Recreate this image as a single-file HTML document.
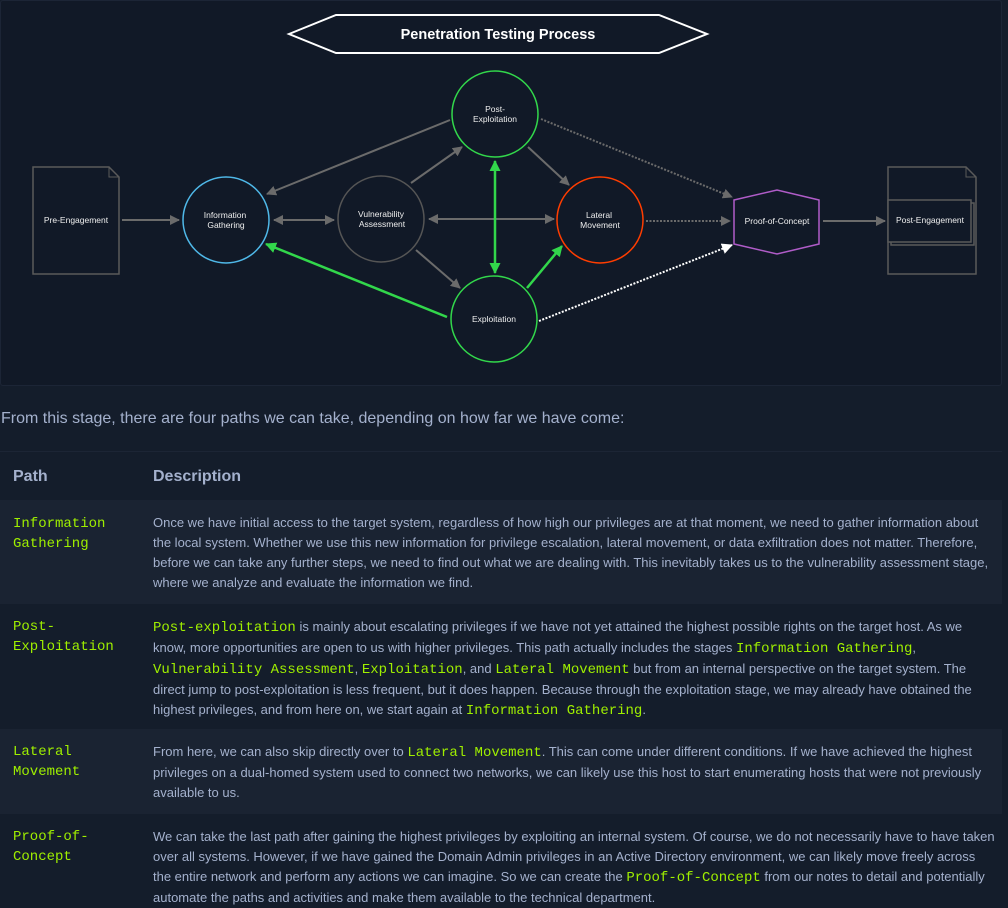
<!DOCTYPE html>
<html><head><meta charset="utf-8"><style>
*{margin:0;padding:0;box-sizing:border-box}
body{width:1008px;height:904px;background:#141d2b;overflow:hidden;font-family:"Liberation Sans",sans-serif;color:#a4b1cd;position:relative}
.dg{position:absolute;left:0;top:0;width:1002px;height:386px;background:#111927;border:1px solid #1c2536;border-radius:3px}
.intro{position:absolute;left:1px;top:410px;font-size:16px;color:#a4b1cd;white-space:nowrap}
.hline{position:absolute;left:0;top:451px;width:1002px;height:1px;background:#1c2535}
.row{position:absolute;left:0;width:1002px}
.p{position:absolute;left:13px;font-family:"Liberation Mono",monospace;font-size:14px;line-height:20px;color:#9fef00}
.d{position:absolute;left:153px;font-size:13px;line-height:20px;color:#a4b1cd;white-space:nowrap}
code{font-family:"Liberation Mono",monospace;font-size:14px;color:#9fef00}
.h{position:absolute;top:468px;font-weight:bold;font-size:16px;color:#a4b1cd}
</style></head><body>
<div class="dg">
<svg width="1002" height="386" viewBox="0 0 1002 386" xmlns="http://www.w3.org/2000/svg" font-family="Liberation Sans, sans-serif">
<defs>
<marker id="ag" markerWidth="10" markerHeight="10" refX="9" refY="5" orient="auto-start-reverse" markerUnits="userSpaceOnUse"><path d="M0,0 L10,5 L0,10 z" fill="#6b6b6b"/></marker>
<marker id="agr" markerWidth="11" markerHeight="11" refX="10" refY="5.5" orient="auto-start-reverse" markerUnits="userSpaceOnUse"><path d="M0,0 L11,5.5 L0,11 z" fill="#32d74b"/></marker>
<marker id="aw" markerWidth="11" markerHeight="11" refX="10" refY="5.5" orient="auto" markerUnits="userSpaceOnUse"><path d="M0,0 L11,5.5 L0,11 z" fill="#fff"/></marker>
</defs>
<polygon points="288,33 335,14 658,14 706,33 658,52 335,52" fill="#111927" stroke="#fff" stroke-width="2"/>
<text x="497" y="38" fill="#fff" font-size="14.5" font-weight="bold" text-anchor="middle">Penetration Testing Process</text>
<path d="M32,166 H108 L118,176 V273 H32 Z" fill="none" stroke="#5a5a5a" stroke-width="1.5"/>
<path d="M108,166 V176 H118" fill="none" stroke="#5a5a5a" stroke-width="1"/>
<text x="75" y="222" fill="#eee" font-size="8.5" text-anchor="middle">Pre-Engagement</text>
<path d="M887,166 H965 L975,176 V273 H887 Z" fill="none" stroke="#5a5a5a" stroke-width="1.5"/>
<path d="M965,166 V176 H975" fill="none" stroke="#5a5a5a" stroke-width="1"/>
<rect x="890" y="202" width="83" height="42" fill="none" stroke="#5a5a5a" stroke-width="1.5"/>
<rect x="887" y="199" width="83" height="42" fill="#111927" stroke="#5a5a5a" stroke-width="1.5"/>
<text x="929" y="222" fill="#eee" font-size="8.5" text-anchor="middle">Post-Engagement</text>
<circle cx="225" cy="219" r="43" fill="none" stroke="#4fb8e8" stroke-width="1.5"/>
<text x="224" y="217" fill="#eee" font-size="8.5" text-anchor="middle">Information</text>
<text x="225" y="227" fill="#eee" font-size="8.5" text-anchor="middle">Gathering</text>
<circle cx="380" cy="218" r="43" fill="none" stroke="#555" stroke-width="1.5"/>
<text x="380" y="216" fill="#eee" font-size="8.5" text-anchor="middle">Vulnerability</text>
<text x="381" y="226" fill="#eee" font-size="8.5" text-anchor="middle">Assessment</text>
<circle cx="494" cy="113" r="43" fill="none" stroke="#32d74b" stroke-width="1.5"/>
<text x="494" y="111" fill="#eee" font-size="8.5" text-anchor="middle">Post-</text>
<text x="494" y="121" fill="#eee" font-size="8.5" text-anchor="middle">Exploitation</text>
<circle cx="599" cy="219" r="43" fill="none" stroke="#ff3d00" stroke-width="1.5"/>
<text x="598" y="217" fill="#eee" font-size="8.5" text-anchor="middle">Lateral</text>
<text x="599" y="227" fill="#eee" font-size="8.5" text-anchor="middle">Movement</text>
<circle cx="493" cy="318" r="43" fill="none" stroke="#32d74b" stroke-width="1.5"/>
<text x="493" y="321" fill="#eee" font-size="8.5" text-anchor="middle">Exploitation</text>
<polygon points="733,199 776,189 818,199 818,243 776,253 733,243" fill="none" stroke="#b05cc8" stroke-width="1.5"/>
<text x="776" y="223" fill="#eee" font-size="8.5" text-anchor="middle">Proof-of-Concept</text>
<g stroke="#6b6b6b" stroke-width="2" fill="none">
<line x1="121" y1="219" x2="178" y2="219" marker-end="url(#ag)"/>
<line x1="449" y1="119" x2="266" y2="193" marker-end="url(#ag)"/>
<line x1="410" y1="182" x2="461" y2="146" marker-end="url(#ag)"/>
<line x1="273" y1="219" x2="333" y2="219" marker-start="url(#ag)" marker-end="url(#ag)"/>
<line x1="428" y1="218" x2="553" y2="218" marker-start="url(#ag)" marker-end="url(#ag)"/>
<line x1="415" y1="249" x2="459" y2="287" marker-end="url(#ag)"/>
<line x1="527" y1="146" x2="568" y2="184" marker-end="url(#ag)"/>
<line x1="822" y1="220" x2="884" y2="220" marker-end="url(#ag)"/>
</g>
<g stroke="#6b6b6b" stroke-width="2" fill="none" stroke-dasharray="2,1.5">
<line x1="540" y1="118" x2="731" y2="196" marker-end="url(#ag)"/>
<line x1="645" y1="220" x2="729" y2="220" marker-end="url(#ag)"/>
</g>
<line x1="538" y1="320" x2="731" y2="244" stroke="#fff" stroke-width="2" stroke-dasharray="2,1.5" marker-end="url(#aw)"/>
<g stroke="#32d74b" stroke-width="2.5" fill="none">
<line x1="494" y1="160" x2="494" y2="272" marker-start="url(#agr)" marker-end="url(#agr)"/>
<line x1="446" y1="316" x2="265" y2="243" marker-end="url(#agr)"/>
<line x1="526" y1="287" x2="561" y2="245" marker-end="url(#agr)"/>
</g>
</svg>
</div>
<div class="intro">From this stage, there are four paths we can take, depending on how far we have come:</div>
<div class="hline"></div>
<div class="h" style="left:13px">Path</div>
<div class="h" style="left:153px">Description</div>

<div class="row" style="top:500px;height:104px;background:#1a2332">
<div class="p" style="top:14px">Information<br>Gathering</div>
<div class="d" style="top:13px">Once we have initial access to the target system, regardless of how high our privileges are at that moment, we need to gather information about<br>the local system. Whether we use this new information for privilege escalation, lateral movement, or data exfiltration does not matter. Therefore,<br>before we can take any further steps, we need to find out what we are dealing with. This inevitably takes us to the vulnerability assessment stage,<br>where we analyze and evaluate the information we find.</div>
</div>

<div class="row" style="top:604px;height:125px">
<div class="p" style="top:13px">Post-<br>Exploitation</div>
<div class="d" style="top:13px"><code>Post-exploitation</code> is mainly about escalating privileges if we have not yet attained the highest possible rights on the target host. As we<br>know, more opportunities are open to us with higher privileges. This path actually includes the stages <code>Information Gathering</code>,<br><code>Vulnerability Assessment</code>, <code>Exploitation</code>, and <code>Lateral Movement</code> but from an internal perspective on the target system. The<br>direct jump to post-exploitation is less frequent, but it does happen. Because through the exploitation stage, we may already have obtained the<br>highest privileges, and from here on, we start again at <code>Information Gathering</code>.</div>
</div>

<div class="row" style="top:729px;height:85px;background:#1a2332">
<div class="p" style="top:13px">Lateral<br>Movement</div>
<div class="d" style="top:13px">From here, we can also skip directly over to <code>Lateral Movement</code>. This can come under different conditions. If we have achieved the highest<br>privileges on a dual-homed system used to connect two networks, we can likely use this host to start enumerating hosts that were not previously<br>available to us.</div>
</div>

<div class="row" style="top:814px;height:90px">
<div class="p" style="top:13px">Proof-of-<br>Concept</div>
<div class="d" style="top:13px">We can take the last path after gaining the highest privileges by exploiting an internal system. Of course, we do not necessarily have to have taken<br>over all systems. However, if we have gained the Domain Admin privileges in an Active Directory environment, we can likely move freely across<br>the entire network and perform any actions we can imagine. So we can create the <code>Proof-of-Concept</code> from our notes to detail and potentially<br>automate the paths and activities and make them available to the technical department.</div>
</div>
</body></html>
